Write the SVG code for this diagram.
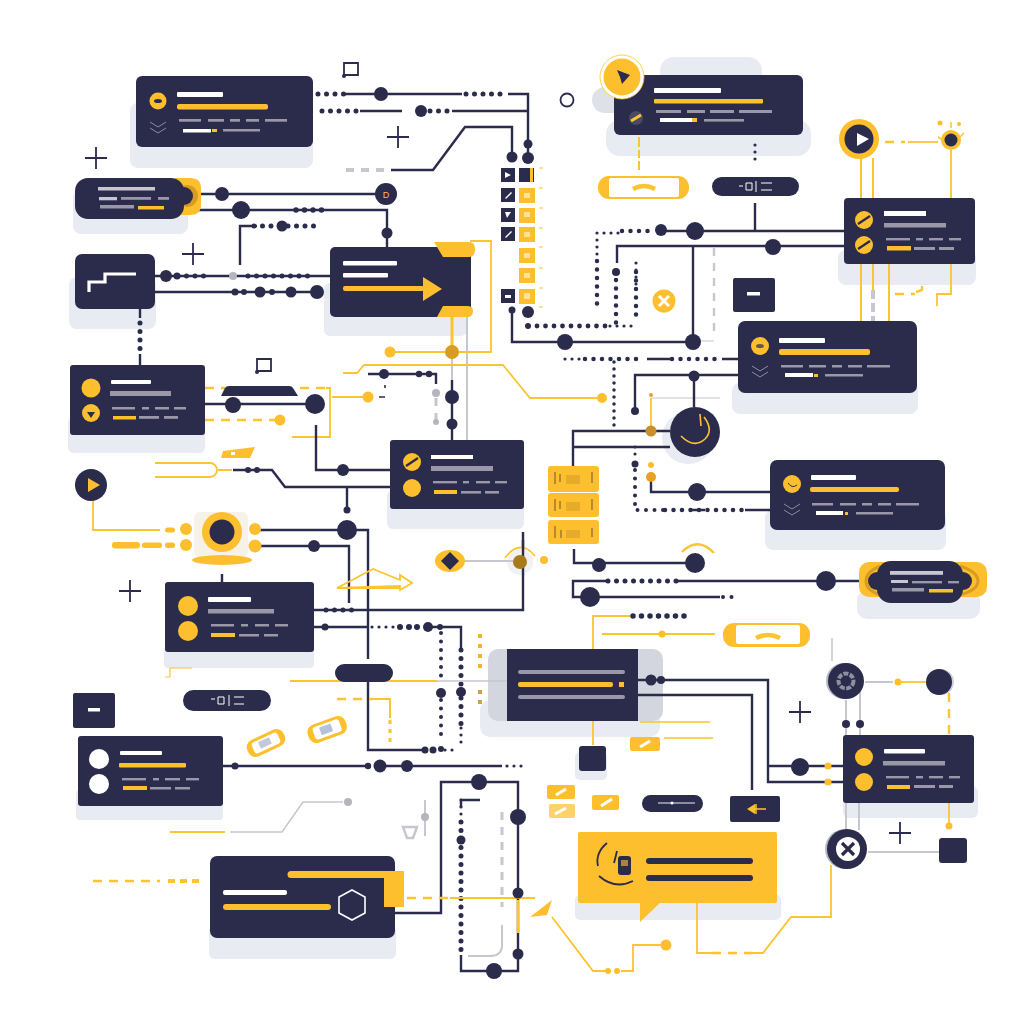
<svg xmlns="http://www.w3.org/2000/svg" xmlns:xlink="http://www.w3.org/1999/xlink" width="1024" height="1024" viewBox="0 0 1024 1024">
<style>
.n{fill:#2b2b4c}.y{fill:#fdbf2d}.w{fill:#fff}.g{fill:#9a97a8}.lv{fill:#c9c7d3}.s{fill:#e9ebf2}.o{fill:#d99c22}
.ln{stroke:#2b2b4c;stroke-width:2.400;fill:none}
.ly{stroke:#fdc431;stroke-width:1.800;fill:none}
.yb{stroke:#fdc431;stroke-width:3;fill:none}
.lg{stroke:#c6c7cf;stroke-width:2;fill:none}
.dn{stroke:#2b2b4c;stroke-width:5;stroke-dasharray:0 8.500;stroke-linecap:round;fill:none}
.ds{stroke:#2b2b4c;stroke-width:3.200;stroke-dasharray:0 7;stroke-linecap:round;fill:none}
.dy{stroke:#fdc431;stroke-width:2.400;stroke-dasharray:9 7;fill:none}
.dg{stroke:#c6c7cf;stroke-width:2.400;stroke-dasharray:8 7;fill:none}
.pl{stroke:#2b2b4c;stroke-width:1.800;fill:none}
.ch{stroke:#8d8ba0;stroke-width:1;fill:none}
</style>
<defs>
<g id="chev"><path class="ch" d="M-8-6 0-1 8-6M-8 0 0 5 8 0"/></g>
<g id="slash"><circle r="9" class="y"/><path d="M-6 4 6-4" stroke="#2b2b4c" stroke-width="2.200"/></g>
<g id="plus"><path class="pl" d="M-11 0H11M0-11V11"/></g>
<g id="note"><path class="pl" d="M-6 6V-7H8V5H-6"/><circle cx="-6" cy="6" r="2" class="n"/></g>
</defs>
<rect width="1024" height="1024" fill="#fff"/>
<g id="shadows">
<rect class="s" x="130" y="103" width="183" height="65" rx="8"/>
<rect class="s" x="73" y="190" width="115" height="44" rx="8"/>
<rect class="s" x="69" y="277" width="87" height="52" rx="8"/>
<rect class="s" x="324" y="283" width="143" height="53" rx="6"/>
<rect class="s" x="68" y="417" width="137" height="36" rx="6"/>
<rect class="s" x="387" y="490" width="137" height="39" rx="6"/>
<rect class="s" x="660" y="57" width="102" height="30" rx="14"/>
<rect x="592" y="87" width="40" height="26" rx="13" fill="#dfe1e8"/>
<rect class="s" x="606" y="120" width="205" height="36" rx="14"/>
<rect class="s" x="838" y="250" width="138" height="35" rx="8"/>
<rect class="s" x="732" y="383" width="186" height="31" rx="8"/>
<rect class="s" x="765" y="510" width="181" height="40" rx="8"/>
<rect class="s" x="857" y="590" width="123" height="29" rx="10"/>
<rect class="s" x="480" y="700" width="180" height="37" rx="10"/>
<rect x="488" y="649" width="175" height="72" rx="10" fill="#d3d5df"/>
<rect class="s" x="164" y="647" width="150" height="21" rx="4"/>
<rect class="s" x="76" y="790" width="147" height="30" rx="4"/>
<rect class="s" x="209" y="925" width="187" height="34" rx="6"/>
<rect class="s" x="843" y="786" width="135" height="32" rx="6"/>
<rect class="s" x="575" y="895" width="206" height="25" rx="5"/>
<rect class="s" x="575" y="752" width="32" height="28" rx="5"/>
<circle cx="688" cy="438" r="26" class="s"/>
</g>
<g id="connectors">
<path class="ln" d="M345 94H462M508 94H528V158"/><path class="dn" d="M318 94H345M466 94H505"/>
<path class="ln" d="M360 111H402M452 111H528"/><path class="dn" d="M322 111H358M430 111H450"/>
<path class="dg" d="M346 170H384" style="stroke-width:4"/>
<path class="ln" d="M391 170H433L465 127H512V157"/>
<path class="ln" d="M197 194H376"/>
<path class="ln" d="M197 210H387V247"/><path class="dn" d="M296 210H327" style="stroke-width:5.500"/>
<path class="ln" d="M240 265V226H257"/><path class="dn" d="M254 226H317"/>
<path class="ln" d="M155 276H330"/><path class="dn" d="M178 276H208M248 276H312"/>
<path class="ln" d="M155 292H317"/>
<path class="dn" d="M140 323V350"/><path class="ln" d="M140 309V318M140 354V365"/>
<path class="yb" d="M452 317V352"/>
<path class="lg" d="M452 352V380M467 317V440"/><path class="ln" d="M452 380V440"/>
<path class="ly" d="M390 352H491V241H470"/>
<path class="ly" d="M343 373H357L364 365H503L530 398H597"/>
<path class="ln" d="M368 374H436V384"/>
<path class="ln" d="M385 385V388M379 397H385" style="stroke-width:1.600"/>
<path class="dg" d="M436 398V420" style="stroke-width:3"/>
<path class="ln" d="M205 404H315"/>
<path class="dy" d="M205 388H225M300 388H326"/>
<path class="ly" d="M326 388H330V437H292"/>
<path class="dy" d="M205 420H280"/>
<path class="ly" d="M332 397H368"/>
<path class="ln" d="M316 425V470H390"/>
<path class="ly" d="M155 463H210A6.500 6.500 0 0 1 210 477H155M218 470H232"/>
<path class="ln" d="M233 470H272L285 487H390M347 487V510"/>
<path class="ly" d="M93 501V530H160"/>
<path class="ln" d="M222 574V582"/>
<path class="ly" d="M165 677H170V668H192" style="stroke-width:1.200"/>
<rect class="y" x="165" y="527.500" width="10" height="5" rx="2.500"/>
<rect class="y" x="112" y="542" width="28" height="6.500" rx="3"/><rect class="y" x="142" y="542.500" width="20" height="5.500" rx="2.500"/><rect class="y" x="165" y="542.500" width="10" height="5.500" rx="2.500"/>
<path class="ln" d="M260 530H368V659"/>
<path class="ln" d="M260 546H349V603"/>
<path class="ln" d="M314 610H523V532"/><path class="dn" d="M326 610H358"/>
<path class="lg" d="M465 561H520"/>
<path class="ln" d="M314 627H368"/>
<path class="ds" d="M372 627H396"/>
<path class="ln" d="M430 627H461V650"/>
<path class="dn" d="M441 633V680" style="stroke-width:4"/>
<path class="dn" d="M441 700V740" style="stroke-width:4"/>
<path class="dn" d="M461 650V685M461 698V725"/>
<path class="ds" d="M461 728V745"/>
<path class="ln" d="M368 682V750H425"/><path class="ds" d="M445 750H456"/>
<path class="ly" d="M290 681H437"/><path class="lg" d="M437 681H507" style="stroke-width:1.500"/>
<path d="M480 634V668" stroke="#f4b429" stroke-width="4" stroke-dasharray="4 6" fill="none"/>
<path d="M480 690V708" stroke="#c9a24a" stroke-width="4" stroke-dasharray="4 6" fill="none"/>
<path class="dy" d="M337 699H372"/><path class="yb" d="M372 699H390V718" style="stroke-width:2"/><path d="M390 720V745" stroke="#fdc431" stroke-width="3" stroke-dasharray="4 5" fill="none"/>
<path class="ln" d="M223 766H368M386 766H502"/><path class="ds" d="M507 766H528"/>
<path class="ly" d="M170 832H225"/><path class="lg" d="M230 832H282L303 802H343" style="stroke-width:1.500"/>
<path class="lg" d="M425 800V836"/>
<path class="ln" d="M395 913H441V782H518V971H461V955"/>
<path class="dn" d="M461 822V953"/><path class="ds" d="M461 800V820"/><path class="ln" d="M461 807V800H480"/>
<path class="dg" d="M502 812V907" style="stroke-width:3"/>
<path class="lg" d="M502 925V945Q502 956 490 956H468"/>
<path class="dy" d="M93 881H160"/><path class="dy" d="M168 881H203" style="stroke-width:4;stroke-dasharray:7 5"/>
<path class="dy" d="M407 898H450"/>
<path class="ly" d="M450 898H535"/><path class="ly" d="M518 900V933" style="stroke-width:2.400"/>
<path class="ly" d="M552 917 593 971H607M621 971H633V945H662"/>
<path class="ly" d="M697 903V953H712M752 953H763L791 917H831V865"/><path class="dy" d="M712 953H752"/>
<path class="ln" d="M638 680H768V782H843"/><path class="ln" d="M638 695H752V790"/><path class="ln" d="M768 766H843"/>
<path class="ly" d="M593 649V616H630"/><path class="ly" d="M602 634H715"/><path class="ly" d="M593 721V745"/>
<path class="dn" d="M633 616H686" style="stroke-width:5.500"/>
<path class="ln" d="M860 581H677M608 581H573V597H720"/><path class="dn" d="M608 581H678"/>
<path class="dn" d="M723 597H740" style="stroke-width:4"/>
<path class="ln" d="M574 549V563H695"/>
<path class="ly" d="M682 552Q698 536 714 553" style="stroke-width:2.400"/>
<path class="ly" d="M505 558Q520 538 535 556"/>
<path class="dn" d="M635 470V510H665" style="stroke-width:4"/><path class="ds" d="M635 447V460"/>
<path class="dn" d="M665 510H745" style="stroke-width:4.500"/><path class="ln" d="M745 510H770M690 510H705"/>
<path class="ln" d="M651 480V492H770"/>
<path class="ln" d="M670 431H573V466M670 447H574"/>
<path class="ly" d="M651 398V431"/><path class="lg" d="M651 398H720" style="stroke-width:1"/>
<path class="ln" d="M738 375H635V411M694 376V407"/>
<path class="ln" d="M738 359H722M647 359H672"/><path class="dn" d="M585 359H642M672 359H722" style="stroke-width:4.500"/><path class="ds" d="M565 359H585"/>
<path class="ds" d="M614 362V430" style="stroke-width:3.500"/>
<path class="ln" d="M512 310V342H693V247"/>
<path class="ln" d="M844 246H617V263"/>
<path class="dn" d="M616 280V325" style="stroke-width:4.500"/>
<path class="ln" d="M662 231H844"/><path class="dn" d="M622 231H655M597 261V310" style="stroke-width:4.500"/><path class="ds" d="M597 233H620M597 233V258"/>
<path class="ln" d="M755 203V231"/>
<path class="ds" d="M755 145V166"/>
<path d="M639 137V170" stroke="#fdc431" stroke-width="2" stroke-dasharray="10 3 8 3" fill="none"/>
<path class="ds" d="M636 263V285"/><path class="dn" d="M636 272V315" style="stroke-width:4.500"/>
<path class="dn" d="M537 326H610" style="stroke-width:4.800"/><path class="ds" d="M610 326H632"/>
<path class="dg" d="M714 248V333"/><path class="lg" d="M714 341H700" style="stroke-width:1"/>
<path class="yb" d="M861 157V198M873 158V198M861 264V321M889 264V321M873 264V290" style="stroke-width:2"/>
<path class="lg" d="M873 290V321" style="stroke-width:4;stroke-dasharray:9 4"/>
<path class="ly" d="M951 150V198"/>
<path class="ly" d="M951 264V294H937V306"/>
<path class="dy" d="M895 294H915"/><path class="ly" d="M916 292 922 290V286" style="stroke-width:2.400"/>
<path class="dy" d="M885 142H905"/><path class="ly" d="M908 142H938"/>
<path class="lg" d="M846 700V735M860 690V735M846 803V830M859 803V830M868 852H939M865 682H893"/>
<path class="lg" d="M832 638V661" style="stroke-width:1.500"/>
<path class="ly" d="M900 682H926"/>
<path class="dy" d="M949 693V735"/><path class="ly" d="M949 803V826"/>
<path class="ly" d="M640 722H710M664 738H713" style="stroke-width:1.500"/>
</g>
<g id="junctions">
<circle class="n" cx="381" cy="94" r="7"/><circle class="n" cx="421" cy="111" r="6"/>
<circle class="n" cx="528" cy="144" r="4.500"/><circle class="n" cx="528" cy="158" r="6"/><circle class="n" cx="512" cy="157" r="5.500"/>
<circle class="n" cx="222" cy="194" r="7"/><circle class="n" cx="241" cy="210" r="9"/><circle class="n" cx="387" cy="233" r="5.500"/><circle class="n" cx="282" cy="226" r="5.500"/>
<circle class="n" cx="166" cy="276" r="6"/><circle class="n" cx="177" cy="276" r="3.500"/><circle cx="233" cy="276" r="4" fill="#b5b5bd"/>
<circle class="n" cx="235" cy="292" r="3.500"/><circle class="n" cx="244" cy="292" r="3"/><circle class="n" cx="260" cy="292" r="5.500"/><circle class="n" cx="272" cy="292" r="3"/><circle class="n" cx="291" cy="292" r="5.500"/><circle class="n" cx="317" cy="292" r="7"/>
<circle class="o" cx="452" cy="352" r="7"/><circle class="y" cx="390" cy="352" r="5.500"/>
<circle class="n" cx="452" cy="397" r="7"/><circle class="n" cx="452" cy="424" r="5.500"/>
<circle class="n" cx="384" cy="374" r="5"/><circle class="n" cx="419" cy="374" r="3.200"/><circle class="n" cx="429" cy="374" r="3.200"/>
<circle cx="436" cy="393" r="4" fill="#b5b5bd"/><circle cx="436" cy="422" r="3" fill="#b5b5bd"/>
<circle class="y" cx="602" cy="398" r="5"/><circle class="y" cx="368" cy="397" r="5.500"/><circle class="y" cx="280" cy="420" r="5.500"/>
<circle class="n" cx="233" cy="405" r="8"/>
<circle class="n" cx="315" cy="404" r="10"/>
<circle class="n" cx="343" cy="470" r="6"/><circle class="n" cx="248" cy="470" r="3"/><circle class="n" cx="257" cy="470" r="3"/>
<circle class="n" cx="347" cy="510" r="3.500"/>
<circle class="n" cx="347" cy="530" r="10"/><circle class="n" cx="314" cy="546" r="6"/>
<circle class="n" cx="325" cy="627" r="3.500"/>
<circle class="n" cx="400" cy="627" r="3"/><circle class="n" cx="409" cy="627" r="3"/><circle class="n" cx="417" cy="627" r="3"/><circle class="n" cx="428" cy="627" r="5"/><circle class="n" cx="440" cy="627" r="3"/>
<circle class="n" cx="441" cy="693" r="5"/><circle class="n" cx="461" cy="692" r="5"/>
<circle class="n" cx="425" cy="750" r="3.500"/><circle class="n" cx="433" cy="750" r="3.500"/><circle class="n" cx="441" cy="749" r="3"/>
<circle class="n" cx="235" cy="766" r="3.500"/><circle class="n" cx="368" cy="766" r="3.200"/><circle class="n" cx="380" cy="766" r="6.500"/><circle class="n" cx="407" cy="766" r="6"/>
<circle cx="348" cy="802" r="4" fill="#b5b5bd"/><circle cx="425" cy="817" r="4" fill="#b5b5bd"/>
<circle class="n" cx="479" cy="782" r="8"/><circle class="n" cx="518" cy="817" r="8"/><circle class="n" cx="518" cy="893" r="5.500"/><circle class="n" cx="518" cy="954" r="5.500"/><circle class="n" cx="494" cy="971" r="8"/>
<circle class="n" cx="461" cy="840" r="4.500"/>
<circle class="n" cx="651" cy="680" r="5.500"/><circle class="n" cx="661" cy="680" r="4"/>
<circle class="n" cx="800" cy="767" r="9"/><circle class="y" cx="828" cy="766" r="3.500"/><circle class="y" cx="828" cy="782" r="3.500"/>
<circle class="n" cx="826" cy="581" r="10"/><circle class="n" cx="590" cy="597" r="10"/><circle class="n" cx="599" cy="565" r="7"/><circle class="n" cx="695" cy="563" r="10"/>
<circle class="n" cx="635" cy="464" r="3.500"/><circle cx="651" cy="477" r="5" fill="#e8a024"/><circle class="y" cx="651" cy="465" r="3"/><circle class="n" cx="697" cy="492" r="9"/>
<circle cx="651" cy="431" r="5.500" fill="#c8902a"/><circle cx="651" cy="395" r="2" fill="#e8a024"/>
<circle class="n" cx="694" cy="376" r="5.500"/><circle class="n" cx="635" cy="411" r="4"/>
<circle class="n" cx="565" cy="342" r="8"/><circle class="n" cx="693" cy="342" r="8"/><circle class="n" cx="512" cy="310" r="3.500"/>
<circle class="n" cx="773" cy="247" r="8"/><circle class="n" cx="616" cy="272" r="4"/>
<circle class="n" cx="695" cy="231" r="9"/><circle class="n" cx="661" cy="230" r="6"/>
<circle class="n" cx="528" cy="312" r="6"/><circle class="n" cx="528" cy="326" r="3"/>
<circle class="n" cx="846" cy="724" r="4"/><circle class="n" cx="860" cy="724" r="4"/>
<circle class="y" cx="898" cy="682" r="3.500"/><circle class="y" cx="949" cy="826" r="3.500"/><circle class="y" cx="662" cy="634" r="3.500"/>
<circle class="y" cx="608" cy="971" r="3"/><circle class="y" cx="617" cy="971" r="3"/><circle class="y" cx="666" cy="945" r="5.500"/>
<circle class="y" cx="544" cy="560" r="4"/>
</g>
<g id="card-1"><rect class="n" x="136" y="76" width="177" height="71" rx="6"/><circle class="y" cx="158" cy="101" r="8.500"/><ellipse class="n" cx="158" cy="101" rx="4" ry="2"/><rect class="w" x="177" y="92" width="46" height="5" rx="1"/><rect class="y" x="177" y="104" width="91" height="5.500" rx="2"/><rect class="g" x="179" y="119" width="22" height="2.700"/><rect class="g" x="208" y="119" width="16" height="2.700"/><rect class="g" x="230" y="119" width="10" height="2.700"/><rect class="g" x="246" y="119" width="13" height="2.700"/><rect class="g" x="265" y="119" width="22" height="2.700"/><rect class="w" x="183" y="129" width="28" height="3.500"/><rect class="y" x="212" y="129" width="5" height="3"/><rect class="g" x="223" y="129" width="37" height="2.500"/><use xlink:href="#chev" x="158" y="128"/></g>
<g id="card-2"><path class="y" d="M175 178H190Q201 178 201 188V205Q201 215 190 215H175Z"/><circle cx="187" cy="196" r="11" fill="#d99c22"/><rect class="n" x="75" y="178" width="109" height="41" rx="13"/><circle class="n" cx="184" cy="196" r="9"/><rect class="lv" x="98" y="187" width="57" height="3.500"/><rect class="lv" x="99" y="197" width="18" height="3.300"/><rect class="g" x="121" y="197" width="30" height="2.800"/><rect class="g" x="158" y="197" width="11" height="2.800"/><rect class="g" x="100" y="205" width="34" height="3.500"/><rect class="y" x="138" y="206" width="26" height="3.500"/></g>
<g id="card-3"><rect class="n" x="75" y="254" width="80" height="55" rx="7"/><path d="M89 292V282H105V274H136" stroke="#fff" stroke-width="3.200" fill="none"/></g>
<g id="card-4"><rect class="n" x="330" y="247" width="141" height="70" rx="5"/><path class="y" d="M434 242H469Q475 242 475 249Q475 257 469 257H443Z"/><path class="y" d="M443 306H467Q473 306 473 311Q473 317 467 317H437Z"/><rect class="w" x="343" y="261" width="54" height="4.500" rx="1"/><rect class="w" x="343" y="273" width="45" height="4.500" rx="1"/><rect class="y" x="343" y="286" width="81" height="5" rx="2"/><path class="y" d="M423 277 442 289 423 301Z"/></g>
<g id="card-5"><rect class="n" x="70" y="365" width="135" height="70" rx="3"/><circle class="y" cx="91" cy="388" r="9.500"/><circle class="y" cx="91" cy="413" r="9"/><path class="n" d="M87 412H95L91 418Z"/><rect class="w" x="111" y="380" width="40" height="4" rx="1"/><rect class="g" x="110" y="391" width="61" height="5"/><rect class="g" x="112" y="407" width="23" height="2.500"/><rect class="g" x="142" y="407" width="7" height="2.500"/><rect class="g" x="155" y="407" width="14" height="2.500"/><rect class="g" x="174" y="407" width="12" height="2.500"/><rect class="y" x="113" y="416" width="23" height="3.500"/><rect class="g" x="139" y="416" width="20" height="2.800"/><rect class="g" x="164" y="416" width="14" height="2.800"/></g>
<g id="card-6"><rect class="n" x="390" y="440" width="134" height="69" rx="3"/><use xlink:href="#slash" x="412" y="462"/><circle class="y" cx="412" cy="488" r="9"/><rect class="w" x="431" y="455" width="42" height="4"/><rect class="g" x="431" y="466" width="62" height="5"/><rect class="g" x="433" y="481" width="24" height="2.400"/><rect class="g" x="463" y="481" width="6" height="2.400"/><rect class="g" x="476" y="481" width="14" height="2.400"/><rect class="g" x="495" y="481" width="12" height="2.400"/><rect class="y" x="434" y="490" width="23" height="4"/><rect class="g" x="461" y="491" width="20" height="2.600"/><rect class="g" x="485" y="491" width="14" height="2.600"/></g>
<g id="card-7"><rect class="n" x="614" y="75" width="189" height="60" rx="6"/><circle cx="622" cy="77" r="22" fill="#fff" stroke="#fdc431" stroke-width=".8"/><circle class="y" cx="622" cy="77" r="18.500"/><path class="n" d="M617 70 630 75 622 84 620 77Z"/><rect class="w" x="654" y="88" width="67" height="5" rx="1"/><rect class="y" x="654" y="99" width="109" height="4.500" rx="1"/><rect class="g" x="656" y="110" width="25" height="3"/><rect class="g" x="687" y="110" width="18" height="3"/><rect class="g" x="710" y="110" width="24" height="3"/><rect class="g" x="739" y="110" width="33" height="3"/><rect class="w" x="660" y="118" width="32" height="4"/><rect class="y" x="692" y="118" width="5" height="4"/><rect class="g" x="704" y="119" width="40" height="2.600"/><circle cx="636" cy="118" r="7" fill="#4a4a60"/><path d="M631 121 641 115" stroke="#fdc431" stroke-width="3"/></g>
<g id="card-8"><rect class="n" x="844" y="198" width="131" height="66" rx="4"/><use xlink:href="#slash" x="864" y="220"/><use xlink:href="#slash" x="864" y="245"/><rect class="w" x="884" y="211" width="42" height="5"/><rect class="g" x="884" y="223" width="62" height="4.500"/><rect class="g" x="886" y="238" width="24" height="2.400"/><rect class="g" x="916" y="238" width="7" height="2.400"/><rect class="g" x="929" y="238" width="14" height="2.400"/><rect class="g" x="949" y="238" width="12" height="2.400"/><rect class="y" x="887" y="246" width="24" height="4.500"/><rect class="g" x="914" y="247" width="21" height="3"/><rect class="g" x="939" y="247" width="15" height="3"/></g>
<g id="card-9"><rect class="n" x="738" y="321" width="179" height="72" rx="7"/><circle class="y" cx="760" cy="346" r="9"/><ellipse class="n" cx="760" cy="346" rx="4" ry="2" opacity=".7"/><rect class="w" x="779" y="338" width="46" height="5" rx="1"/><rect class="y" x="779" y="349" width="91" height="6" rx="2"/><rect class="g" x="781" y="365" width="22" height="2.500"/><rect class="g" x="809" y="365" width="17" height="2.500"/><rect class="g" x="832" y="365" width="10" height="2.500"/><rect class="g" x="848" y="365" width="14" height="2.500"/><rect class="g" x="867" y="365" width="23" height="2.500"/><rect class="w" x="785" y="373" width="28" height="4"/><rect class="y" x="814" y="374" width="4" height="3"/><rect class="g" x="825" y="374" width="38" height="2.500"/><use xlink:href="#chev" x="760" y="372"/></g>
<g id="card-10"><rect class="n" x="770" y="460" width="175" height="70" rx="7"/><circle class="y" cx="792" cy="484" r="9"/><path d="M788 483Q792 489 797 485" stroke="#2b2b4c" fill="none"/><rect class="w" x="811" y="475" width="45" height="5" rx="1"/><rect class="y" x="810" y="487" width="89" height="5" rx="2"/><rect class="g" x="812" y="503" width="21" height="2.500"/><rect class="g" x="840" y="503" width="16" height="2.500"/><rect class="g" x="862" y="503" width="10" height="2.500"/><rect class="g" x="878" y="503" width="13" height="2.500"/><rect class="g" x="896" y="503" width="23" height="2.500"/><rect class="w" x="816" y="511" width="27" height="4"/><rect class="y" x="845" y="512" width="3" height="3"/><rect class="g" x="856" y="512" width="37" height="2.500"/><use xlink:href="#chev" x="792" y="510"/></g>
<g id="card-11"><rect class="y" x="859" y="562" width="128" height="35" rx="10"/><path d="M880 566Q866 572 866 581Q866 590 880 595M960 566Q978 572 978 581Q978 590 960 595" stroke="#d99c22" stroke-width="3" fill="none"/><rect class="n" x="877" y="561" width="86" height="42" rx="14"/><circle class="n" cx="877" cy="581" r="9"/><circle class="n" cx="963" cy="581" r="9"/><rect class="lv" x="890" y="571" width="53" height="3.800"/><rect class="lv" x="891" y="580" width="17" height="3"/><rect class="g" x="912" y="581" width="30" height="2.400"/><rect class="g" x="948" y="581" width="11" height="2.400"/><rect class="g" x="892" y="588" width="32" height="3.500"/><rect class="y" x="929" y="589" width="24" height="3.500"/></g>
<g id="card-12"><rect class="n" x="507" y="649" width="131" height="72"/><rect class="g" x="518" y="670" width="107" height="4" rx="2"/><rect class="y" x="518" y="682" width="95" height="5" rx="2"/><rect class="y" x="619" y="682" width="5" height="5"/><rect class="g" x="518" y="695" width="107" height="4" rx="2"/></g>
<g id="card-13"><rect class="n" x="165" y="582" width="149" height="70" rx="3"/><circle class="y" cx="188" cy="606" r="10"/><circle class="y" cx="188" cy="631" r="10"/><rect class="w" x="208" y="597" width="43" height="5" rx="1"/><rect class="g" x="208" y="609" width="66" height="4.500"/><rect class="g" x="211" y="624" width="23" height="2.500"/><rect class="g" x="241" y="624" width="7" height="2.500"/><rect class="g" x="255" y="624" width="14" height="2.500"/><rect class="g" x="275" y="624" width="13" height="2.500"/><rect class="y" x="211" y="633" width="24" height="4"/><rect class="g" x="239" y="634" width="20" height="2.500"/><rect class="g" x="264" y="634" width="14" height="2.500"/></g>
<g id="card-14"><rect class="n" x="78" y="736" width="145" height="70" rx="3"/><circle class="w" cx="99" cy="759" r="10"/><circle class="w" cx="99" cy="784" r="10"/><rect class="w" x="120" y="751" width="42" height="4" rx="1"/><rect class="y" x="119" y="763" width="67" height="4.500" rx="1"/><rect class="g" x="122" y="778" width="24" height="2.400"/><rect class="g" x="153" y="778" width="6" height="2.400"/><rect class="g" x="165" y="778" width="15" height="2.400"/><rect class="g" x="186" y="778" width="13" height="2.400"/><rect class="y" x="123" y="786" width="24" height="4"/><rect class="g" x="150" y="787" width="21" height="2.500"/><rect class="g" x="175" y="787" width="15" height="2.500"/></g>
<g id="card-15"><rect class="n" x="210" y="856" width="185" height="82" rx="7"/><path class="y" d="M291 871H404V907H384V878H291A3.500 3.500 0 0 1 291 871Z"/><rect class="w" x="223" y="890" width="64" height="5" rx="2"/><rect class="y" x="223" y="904" width="108" height="6" rx="3"/><path d="M352 890 365 897V913L352 920 339 913V897Z" stroke="#fff" stroke-width="1.600" fill="none"/></g>
<g id="card-16"><rect class="n" x="843" y="735" width="131" height="68" rx="3"/><circle class="y" cx="864" cy="757" r="9"/><circle class="y" cx="864" cy="782" r="9"/><rect class="w" x="884" y="749" width="41" height="4.500" rx="1"/><rect class="g" x="883" y="761" width="62" height="4.500"/><rect class="g" x="886" y="776" width="23" height="2.400"/><rect class="g" x="916" y="776" width="7" height="2.400"/><rect class="g" x="929" y="776" width="14" height="2.400"/><rect class="g" x="949" y="776" width="11" height="2.400"/><rect class="y" x="887" y="785" width="23" height="4"/><rect class="g" x="914" y="785" width="21" height="3"/><rect class="g" x="939" y="785" width="14" height="3"/></g>
<g id="bubble"><rect class="y" x="578" y="832" width="199" height="71" rx="2"/><path class="y" d="M640 900V922L663 900Z"/><rect class="n" x="646" y="858" width="107" height="6" rx="3"/><rect class="n" x="646" y="875" width="107" height="6" rx="3"/><path d="M607 843Q595 853 598 866M599 876Q615 890 633 881M617 851 614 863" stroke="#2b2b4c" stroke-width="1.800" fill="none"/><rect class="n" x="618" y="856" width="13" height="19" rx="3"/><rect x="621" y="860" width="7" height="6" fill="#fdbf2d" opacity=".6"/></g>
<g id="plus-signs"><use xlink:href="#plus" x="96" y="158"/><use xlink:href="#plus" x="398" y="137"/><use xlink:href="#plus" x="193" y="254"/><use xlink:href="#plus" x="130" y="591"/><use xlink:href="#plus" x="800" y="712"/><use xlink:href="#plus" x="900" y="833"/></g>
<g id="note-1"><use xlink:href="#note" x="350" y="70"/></g>
<g id="note-2"><use xlink:href="#note" x="263" y="366"/></g>
<g id="ring"><circle cx="567" cy="100" r="6.500" fill="#fff" stroke="#2b2b4c" stroke-width="1.800"/></g>
<g id="play-right"><circle class="y" cx="859" cy="139" r="20"/><circle class="n" cx="859" cy="139" r="14.500"/><path class="w" d="M857 133 869 139 857 146Z"/></g>
<g id="sun"><circle class="y" cx="951" cy="140" r="10"/><circle class="n" cx="951" cy="140" r="6.500"/><circle class="y" cx="940" cy="123" r="2.500"/><circle class="y" cx="959" cy="124" r="2"/><path d="M951 122V128M938 137 943 140M964 133 959 138" stroke="#fdc431" stroke-width="1.500"/></g>
<g id="play-left"><circle class="n" cx="91" cy="485" r="16"/><path class="y" d="M88 478 100 485 88 492Z"/></g>
<g id="eye-node"><rect x="194" y="512" width="54" height="45" rx="6" fill="#f6f2e8"/><ellipse class="y" cx="222" cy="560" rx="30" ry="5"/><circle class="y" cx="222" cy="532" r="20"/><circle class="n" cx="222" cy="532" r="12.500"/><circle class="y" cx="186" cy="529" r="6"/><circle class="y" cx="186" cy="545" r="6"/><circle class="y" cx="255" cy="529" r="6"/><circle class="y" cx="255" cy="546" r="6.500"/></g>
<g id="eye"><ellipse class="y" cx="450" cy="561" rx="15" ry="11"/><path class="n" d="M450 552 459 561 450 570 441 561Z"/></g>
<g id="brown-node"><circle cx="520" cy="562" r="13" fill="#f1f1f4"/><path class="lg" d="M507 561H520"/><path class="ln" d="M523 540V575"/><circle cx="520" cy="562" r="7" fill="#a97a1a"/></g>
<g id="dial"><circle class="n" cx="695" cy="432" r="25"/><path d="M704 417Q714 430 705 439Q694 449 681 436M701 426 700 414" stroke="#fdc431" stroke-width="1.600" fill="none"/></g>
<g id="x-yellow"><circle class="y" cx="664" cy="301" r="11.500"/><path d="M659 296 669 306M669 296 659 306" stroke="#fff" stroke-width="3"/></g>
<g id="minus-1"><rect class="n" x="733" y="278" width="42" height="34" rx="2"/><rect class="w" x="747" y="292" width="13" height="3.500"/></g>
<g id="minus-2"><rect class="n" x="73" y="693" width="42" height="35" rx="2"/><rect class="w" x="88" y="708" width="12" height="3.500"/></g>
<g id="phone-1"><rect class="y" x="598" y="176" width="91" height="23" rx="11"/><rect class="w" x="609" y="178" width="70" height="19" rx="2"/><path d="M633 189Q644 183 655 189" stroke="#fdc431" stroke-width="4.500" fill="none"/></g>
<g id="phone-2"><rect class="y" x="723" y="623" width="87" height="24" rx="11"/><rect class="w" x="736" y="625" width="64" height="19" rx="2"/><path d="M756 638Q768 632 780 638" stroke="#fdc431" stroke-width="4.500" fill="none"/></g>
<g id="pill-1"><rect class="n" x="712" y="177" width="87" height="19" rx="9.500"/><path d="M739 186H743M746 183H752V190H746ZM756 181V192M761 183H772M761 190H772" stroke="#fff" stroke-width="1" fill="none"/></g>
<g id="pill-2"><rect class="n" x="183" y="690" width="88" height="21" rx="10.500"/><path d="M211 699H215M218 697H224V704H218ZM229 695V706M234 697H244M234 704H244" stroke="#fff" stroke-width="1" fill="none"/></g>
<g id="pill-3"><rect class="n" x="335" y="664" width="58" height="18" rx="9"/></g>
<g id="pill-4"><rect class="n" x="642" y="795" width="61" height="17" rx="8.500"/><path d="M658 803H695" stroke="#8d8ba0" stroke-width="2"/><circle class="w" cx="672" cy="803" r="1.500"/></g>
<g id="trapezoid"><path class="n" d="M221 396 225 388Q226 386 229 386H289Q292 386 293 388L298 396Z"/></g>
<g id="tab"><path class="y" d="M221 458 223 451 255 447 250 458Z"/><rect class="w" x="231" y="452" width="4" height="3"/></g>
<g id="squares">
<rect class="n" x="501" y="168" width="14" height="14"/><rect class="n" x="501" y="188" width="14" height="14"/><rect class="n" x="501" y="208" width="14" height="14"/><rect class="n" x="501" y="227" width="14" height="14"/><rect class="n" x="501" y="289" width="14" height="14"/>
<path d="M505 172 511 175 505 178ZM505 198 511 192 512 193 506 199ZM505 212H511L507 218ZM505 237 511 231 512 232 506 238ZM505 295H511V298H505Z" fill="#fff"/>
<rect class="n" x="519" y="168" width="15" height="14"/><rect class="y" x="530" y="168" width="3" height="14"/>
<rect class="y" x="519" y="188" width="16" height="15"/><rect class="y" x="519" y="208" width="16" height="15"/><rect class="y" x="519" y="227" width="16" height="15"/><rect class="y" x="519" y="248" width="16" height="15"/><rect class="y" x="519" y="268" width="16" height="15"/><rect class="y" x="519" y="289" width="16" height="15"/>
<path d="M539 168H543M539 188H543M539 208H543M539 228H543M539 247H543M539 268H543M539 288H543M539 307H543" stroke="#fdc431" stroke-width="1.200"/>
<path d="M524 193H530V198H524ZM524 212H530V217H524ZM524 232H530V237H524ZM524 253H530V258H524ZM524 273H530V278H524ZM524 293H530V299H524Z" fill="#fde49a"/>
</g>
<g id="stack"><rect class="y" x="548" y="466" width="51" height="26" rx="3"/><rect class="y" x="548" y="493" width="51" height="24" rx="3"/><rect class="y" x="548" y="520" width="51" height="24" rx="3"/><path d="M555 472V484M560 474V482M592 472V483M555 499V511M560 501V509M592 499V510M555 526V538M561 530V538M592 528V537" stroke="#b58a30" stroke-width="2" fill="none"/><path d="M566 475H580V484H566ZM566 502H580V511H566ZM566 530H580V538H566Z" fill="#e6ab2a"/></g>
<g id="chips"><g transform="rotate(-25 266 743)"><rect class="y" x="246" y="734" width="40" height="18" rx="8"/><rect class="w" x="252" y="737" width="28" height="12" rx="3"/><rect x="259" y="739" width="12" height="7" fill="#c3c9d9"/></g><g transform="rotate(-20 327 729)"><rect class="y" x="307" y="720" width="40" height="19" rx="8"/><rect class="w" x="313" y="723" width="28" height="13" rx="3"/><rect x="320" y="725" width="12" height="8" fill="#b4c1d6"/></g></g>
<g id="yellow-tags"><rect class="y" x="630" y="737" width="30" height="14" rx="2"/><rect class="y" x="547" y="785" width="28" height="14" rx="2"/><rect x="549" y="804" width="26" height="14" rx="2" fill="#fdd269"/><rect class="y" x="592" y="795" width="27" height="15" rx="2"/><path d="M640 747 650 741M556 795 566 789M555 814 566 808M601 806 612 799" stroke="#fff" stroke-width="3"/></g>
<g id="square-small"><rect class="n" x="579" y="746" width="27" height="25" rx="3"/></g>
<g id="box-arrow"><rect class="n" x="730" y="796" width="50" height="26" rx="2"/><path class="y" d="M747 809 755 804V814Z"/><path d="M754 809H766M756 804V814" stroke="#fdc431" stroke-width="1.500"/></g>
<g id="gear"><circle cx="844" cy="681" r="18" fill="#b7b8c2"/><circle class="n" cx="846" cy="681" r="18"/><circle cx="846" cy="681" r="7.500" fill="none" stroke="#8f8f9f" stroke-width="4" stroke-dasharray="5 1.500"/></g>
<g id="dot-right"><circle cx="941" cy="682" r="13" fill="#cfd0d8"/><circle class="n" cx="939" cy="682" r="13"/></g>
<g id="x-circle"><circle cx="845" cy="849" r="20" fill="#b7b8c2"/><circle class="n" cx="847" cy="849" r="20"/><circle class="w" cx="848" cy="849" r="12"/><path d="M842 843 854 855M854 843 842 855" stroke="#2b2b4c" stroke-width="3.200"/></g>
<g id="square-right"><rect class="n" x="939" y="838" width="28" height="25" rx="3"/></g>
<g id="d-node"><circle class="n" cx="386" cy="194" r="11"/><text x="386" y="197.500" text-anchor="middle" font-family="Liberation Sans, sans-serif" font-size="9" fill="#fdbf2d">D</text></g>
<g id="outline-arrow"><path d="M337 588 373 569 400 580V575L412 583 400 590V586ZM337 588H400" stroke="#fdc431" stroke-width="1.800" fill="none"/></g>
<g id="grey-icon"><path d="M403 827H417L413 838H407Z" fill="none" stroke="#c6c7cf" stroke-width="2.500"/></g>
<g id="wedge"><path class="y" d="M530 917 552 900 547 915Z"/></g>
</svg>
